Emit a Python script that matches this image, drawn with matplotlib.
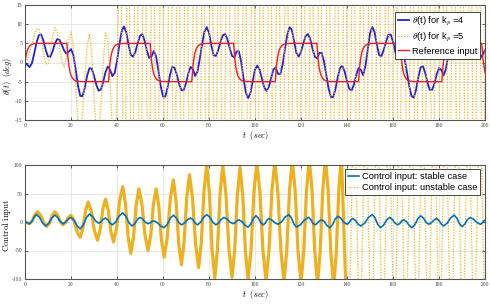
import numpy as np
import matplotlib.pyplot as plt

plt.rcParams['mathtext.fontset'] = 'cm'
plt.rcParams['axes.unicode_minus'] = False

# theta(t) for kp=4, read at 1 s steps
t_sec = np.arange(0, 201)
theta_kp4 = [
    0, -0.6, -1.2, -0.2, 2.3, 5.1, 7.1, 7.35, 5.7, 3.3,
    1.55, 1.5, 2.95, 4.9, 6.1, 5.9, 4.65, 3.15, 2.3, 2.8,
    3.5, 2.0, -1.7, -5.95, -8.7, -8.8, -6.6, -3.5, -1.5, -1.6,
    -3.45, -5.8, -7.35, -7.1, -5.05, -2.5, -1.05, -1.9, -3.55, -2.7,
    0.4, 4.6, 8.05, 9.4, 8.0, 4.7, 1.95, 1.55, 2.8, 5.0,
    6.95, 7.4, 5.7, 3.05, 1.2, 1.6, 3.0, 1.6, -2.05, -6.15,
    -8.85, -8.85, -6.55, -3.35, -1.2, -1.35, -3.15, -5.6, -7.25, -7.25,
    -5.4, -2.85, -1.15, -1.8, -3.5, -2.3, 0.9, 4.8, 8.0, 9.2,
    7.75, 4.5, 1.9, 1.7, 3.2, 5.4, 7.1, 7.4, 6.05, 3.75,
    1.75, 1.3, 2.9, 2.9, 0.15, -4.1, -7.8, -9.3, -8.0, -4.9,
    -1.85, -0.8, -1.9, -4.25, -6.5, -7.4, -6.4, -4.05, -1.85, -1.3,
    -2.95, -3.05, -0.6, 3.4, 7.1, 9.2, 8.55, 5.55, 2.5, 1.55,
    2.75, 4.95, 6.9, 7.45, 6.1, 3.6, 1.5, 1.1, 2.5, 2.5,
    0.3, -3.25, -6.8, -9.0, -9.0, -6.9, -3.8, -1.4, -0.9, -2.4,
    -4.9, -6.9, -7.3, -5.75, -3.3, -1.45, -1.9, -3.3, -1.0, 3.4,
    7.6, 9.3, 7.85, 4.55, 1.9, 1.7, 3.3, 5.5, 7.2, 7.3,
    5.45, 2.8, 1.1, 1.8, 2.75, 1.1, -2.3, -6.0, -8.7, -9.15,
    -7.2, -3.85, -1.3, -0.95, -2.7, -5.3, -7.15, -7.15, -5.5, -3.1,
    -1.45, -1.9, -3.35, -1.7, 1.75, 5.65, 8.5, 9.25, 7.35, 4.05,
    1.75, 1.8, 3.5, 5.75, 7.3, 7.25, 5.3, 2.7, 1.1, 2.1,
    3.2,
]

# reference input (time, value)
ref_t = [
    0, 0.5, 1, 1.5, 2, 3, 4, 6,
    18.2, 18.7, 19.2, 19.7, 20.2, 21.2, 22.2, 24.2,
    36.3, 36.8, 37.3, 37.8, 38.3, 39.3, 40.3, 42.3,
    54.4, 54.9, 55.4, 55.9, 56.4, 57.4, 58.4, 60.4,
    72.5, 73.0, 73.5, 74.0, 74.5, 75.5, 76.5, 78.5,
    90.7, 91.2, 91.7, 92.2, 92.7, 93.7, 94.7, 96.7,
    108.8, 109.3, 109.8, 110.3, 110.8, 111.8, 112.8, 114.8,
    126.9, 127.4, 127.9, 128.4, 128.9, 129.9, 130.9, 132.9,
    145.0, 145.5, 146.0, 146.5, 147.0, 148.0, 149.0, 151.0,
    163.1, 163.6, 164.1, 164.6, 165.1, 166.1, 167.1, 169.1,
    181.2, 181.7, 182.2, 182.7, 183.2, 184.2, 185.2, 187.2,
    198.6, 199.1, 199.6, 200,
]
ref_v = [
    0, 1.97, 3.16, 3.88, 4.32, 4.75, 4.91, 4.99,
    5, 1.07, -1.32, -2.77, -3.65, -4.5, -4.82, -4.98,
    -5, -1.07, 1.32, 2.77, 3.65, 4.5, 4.82, 4.98,
    5, 1.07, -1.32, -2.77, -3.65, -4.5, -4.82, -4.98,
    -5, -1.07, 1.32, 2.77, 3.65, 4.5, 4.82, 4.98,
    5, 1.07, -1.32, -2.77, -3.65, -4.5, -4.82, -4.98,
    -5, -1.07, 1.32, 2.77, 3.65, 4.5, 4.82, 4.98,
    5, 1.07, -1.32, -2.77, -3.65, -4.5, -4.82, -4.98,
    -5, -1.07, 1.32, 2.77, 3.65, 4.5, 4.82, 4.98,
    5, 1.07, -1.32, -2.77, -3.65, -4.5, -4.82, -4.98,
    -5, -1.07, 1.32, 2.77, 3.65, 4.5, 4.82, 4.98,
    5, 1.07, -1.32, -2.5,
]

# theta(t) for kp=5 (time, value) -- goes far off scale after ~40 s
theta_kp5 = np.array([
    (0, 0), (1, 0.67), (2, 2.5), (3, 4.9), (4, 7.2), (5, 8.7), (6, 8.85),
    (7, 6.45), (8, 2.5), (9, -0.4), (10, -0.35), (11, 2.7), (12, 6.8),
    (13, 9.1), (14, 8.05), (15, 4.2), (16, 0.25), (17, -1.2), (18, 1.2),
    (19, 5.6), (20, 8.0), (21, 4.4), (22, -5.55), (23, -15.1), (24, -17.85),
    (25, -13.2), (26, -4.3), (27, 4.1), (28, 7.5), (29, 2.6), (30, -8.65),
    (31, -18.2), (32, -19.2), (33, -11.4), (34, 0.1), (35, 7.7), (36, 6.3),
    (37, -4.9), (38, -18.2), (39, -24), (39.4, -27), (41.35, 40),
    (43.25, -45), (44.9, 50), (46.5, -55), (48.35, 60), (50.15, -60),
    (51.9, 60), (53.75, -60), (55.55, 60), (57.35, -60), (59.4, 60),
    (61.25, -60), (63.05, 60), (65.0, -60), (66.6, 60), (68.25, -60),
    (70.15, 60), (71.85, -60), (73.85, 60), (75.8, -60), (77.4, 60),
    (79.1, -60), (81.0, 60), (82.8, -60), (84.4, 60), (86.15, -60),
    (88.1, 60), (90.15, -60), (92.0, 60), (93.6, -60), (95.4, 60),
    (97.3, -60), (99.1, 60), (100.9, -60), (102.8, 60), (104.6, -60),
    (106.4, 60), (108.2, -60), (110.0, 60), (111.9, -60), (113.7, 60),
    (115.5, -60), (117.3, 60), (119.1, -60), (120.9, 60), (122.8, -60),
    (124.6, 60), (126.4, -60), (128.2, 60), (130.0, -60), (131.8, 60),
    (133.7, -60), (135.5, 60), (137.3, -60), (139.1, 60), (140.9, -60),
    (142.7, 60), (144.6, -60), (146.4, 60), (148.2, -60), (150.0, 60),
    (151.8, -60), (153.6, 60), (155.5, -60), (157.3, 60), (159.1, -60),
    (160.9, 60), (162.7, -60), (164.5, 60), (166.4, -60), (168.2, 60),
    (170.0, -60), (171.8, 60), (173.6, -60), (175.4, 60), (177.3, -60),
    (179.1, 60), (180.9, -60), (182.7, 60), (184.5, -60), (186.3, 60),
    (188.2, -60), (190.0, 60), (191.8, -60), (193.6, 60), (195.4, -60),
    (197.2, 60), (199.1, -60), (200.9, 60),
])

# control input, stable case (time, value)
u_stable = np.array([
    (0, 0), (0.67, -0.75), (1.33, -2.25), (2, -3), (3, 1), (4, 9), (5, 13),
    (6.33, 8), (7.67, -2), (9, -7), (10.33, -2.25), (11.67, 7.25), (13, 12),
    (14.17, 8.25), (15.33, 0.75), (16.5, -3), (17.67, -0.25), (18.83, 5.25),
    (20, 8), (21.33, 3), (22.67, -7), (24, -12), (25.33, -5.5), (26.67, 7.5),
    (28, 14), (29.33, 10), (30.67, 2), (32, -2), (33, 0.25), (34, 4.75),
    (35, 7), (36, 4), (37, -2), (38, -5), (39.5, 0.25), (41, 10.75),
    (42.5, 16), (43.83, 10.25), (45.17, -1.25), (46.5, -7), (47.67, -3.25),
    (48.83, 4.25), (50, 8), (51.17, 5.25), (52.33, -0.25), (53.5, -3),
    (54.33, -1.75), (55.17, 0.75), (56, 2), (57.5, -1), (59, -7),
    (60.5, -10), (61.83, -4.5), (63.17, 6.5), (64.5, 12), (65.67, 7.75),
    (66.83, -0.75), (68, -5), (69.33, -2), (70.67, 4), (72, 7), (73, 4),
    (74, -2), (75, -5), (76.33, -0.5), (77.67, 8.5), (79, 13), (80.33, 8.5),
    (81.67, -0.5), (83, -5), (84.17, -1.75), (85.33, 4.75), (86.5, 8),
    (87.83, 5.25), (89.17, -0.25), (90.5, -3), (91.33, -1.25), (92.17, 2.25),
    (93, 4), (94.33, 0.75), (95.67, -5.75), (97, -9), (98.13, -4),
    (99.27, 6), (100.4, 11), (101.47, 7), (102.53, -1), (103.6, -5),
    (104.4, -2.25), (105.2, 3.25), (106, 6), (107.33, 3.5), (108.67, -1.5),
    (110, -4), (111.57, 0.25), (113.13, 8.75), (114.7, 13), (115.8, 7.5),
    (116.9, -3.5), (118, -9), (119.77, -4.75), (121.53, 3.75), (123.3, 8),
    (124.2, 4.75), (125.1, -1.75), (126, -5), (127, -2.75), (128, 1.75),
    (129, 4), (130.17, 0.5), (131.33, -6.5), (132.5, -10), (133.67, -5),
    (134.83, 5), (136, 10), (137.33, 6.5), (138.67, -0.5), (140, -4),
    (140.83, -1.5), (141.67, 3.5), (142.5, 6), (143.67, 2.75),
    (144.83, -3.75), (146, -7), (147.67, -2), (149.33, 8), (151, 13),
    (152.2, 7.25), (153.4, -4.25), (154.6, -10), (155.9, -5.5), (157.2, 3.5),
    (158.5, 8), (159.67, 4.75), (160.83, -1.75), (162, -5), (162.9, -2.75),
    (163.8, 1.75), (164.7, 4), (165.9, 0.5), (167.1, -6.5), (168.3, -10),
    (169.53, -4.75), (170.77, 5.75), (172, 11), (173.17, 7.25),
    (174.33, -0.25), (175.5, -4), (176.67, -1.5), (177.83, 3.5), (179, 6),
    (180, 2.75), (181, -3.75), (182, -7), (183.53, -2.25), (185.07, 7.25),
    (186.6, 12), (187.73, 7), (188.87, -3), (190, -8), (191.17, -4),
    (192.33, 4), (193.5, 8), (195, 5), (196.5, -1), (198, -4),
    (198.67, -2.25), (199.33, 1.25), (200, 3),
])

# control input, unstable case (time, value)
u_unstable = np.array([
    (0, 0), (0.67, -0.75), (1.33, -2.25), (2, -3), (3.17, 2.25),
    (4.33, 12.75), (5.5, 18), (6.83, 11.5), (8.17, -1.5), (9.5, -8),
    (10.67, -1.5), (11.83, 11.5), (13, 18), (14.17, 12.25), (15.33, 0.75),
    (16.5, -5), (17.67, -0.75), (18.83, 7.75), (20, 12), (21.33, 2.25),
    (22.67, -17.25), (24, -27), (25.17, -11.5), (26.33, 19.5), (27.5, 35),
    (28.83, 18.25), (30.17, -15.25), (31.5, -32), (32.67, -14), (33.83, 22),
    (35, 40), (36.17, 21.25), (37.33, -16.25), (38.5, -35), (39.83, -10.75),
    (41.17, 37.75), (42.5, 62), (43.67, 32.75), (44.83, -25.75), (46, -55),
    (47.17, -26.75), (48.33, 29.75), (49.5, 58), (50.83, 31), (52.17, -23),
    (53.5, -50), (54.67, -23), (55.83, 31), (57, 58), (58.17, 28),
    (59.33, -32), (60.5, -62), (61.83, -28), (63.17, 40), (64.5, 74),
    (65.67, 36.75), (66.83, -37.75), (68, -75), (69.17, -35.5),
    (70.33, 43.5), (71.5, 83), (72.83, 42.25), (74.17, -39.25), (75.5, -80),
    (76.67, -35), (77.83, 55), (79, 100), (80.17, 50.5), (81.33, -48.5),
    (82.5, -98), (83.67, -48.5), (84.83, 50.5), (86, 100), (87.33, 50.75),
    (88.67, -47.75), (90, -97), (91.17, -48.75), (92.33, 47.75), (93.5, 96),
    (94.67, 46.75), (95.83, -51.75), (97, -101), (98.27, -49.75),
    (99.53, 52.75), (100.8, 104), (102.13, 52.25), (103.47, -51.25),
    (104.8, -103), (106.07, -50.75), (107.33, 53.75), (108.6, 106),
    (109.93, 53.5), (111.27, -51.5), (112.6, -104), (113.8, -51), (115, 55),
    (116.2, 108), (117.47, 54.5), (118.73, -52.5), (120, -106), (121.2, -52),
    (122.4, 56), (123.6, 110), (124.8, 55.5), (126, -53.5), (127.2, -108),
    (128.33, -53), (129.47, 57), (130.6, 112), (131.8, 56), (133, -56),
    (134.2, -112), (135.33, -55.25), (136.47, 59.25), (137.6, 115),
    (140.6, -250), (143.1, 250), (145.6, -250), (148.1, 250), (150.6, -250),
    (153.1, 250), (155.6, -250), (158.1, 250), (160.6, -250), (163.0, 250),
    (165.5, -250), (168.0, 250), (170.4, -250), (172.9, 250), (175.3, -250),
    (177.8, 250), (180.3, -250), (182.8, 250), (185.3, -250), (187.8, 250),
    (190.3, -250), (192.8, 250), (195.3, -250), (197.8, 250), (200.3, -250),
])

x_ticks = [0, 20, 40, 60, 80, 100, 120, 140, 160, 180, 200]
theta_ticks = [-15, -10, -5, 0, 5, 10, 15]
u_ticks = [-100, -50, 0, 50, 100]

C_BLUE = '#2222d0'
C_RED = '#ee1c24'
C_YEL = '#EDB120'
C_MBLUE = '#0072BD'
DOTS = (0, (1, 1.2))


def style_axes(ax, yticks):
    ax.set_xlim(0, 200)
    ax.set_ylim(yticks[0], yticks[-1])
    ax.set_xticks(x_ticks)
    ax.set_yticks(yticks)
    ax.grid(True, color='#e4e4e4', linewidth=0.6)
    ax.set_axisbelow(True)
    ax.tick_params(direction='in', length=2.5, width=0.6, labelsize=4,
                   colors='#444444', top=True, right=True, pad=2)
    for lab in ax.get_xticklabels() + ax.get_yticklabels():
        lab.set_family('Liberation Serif')
    for s in ax.spines.values():
        s.set_color('#555555')
        s.set_linewidth(0.8)


fig = plt.figure(figsize=(4.9, 3.04), dpi=100)
ax1 = fig.add_axes([25 / 490, 1 - 120 / 304, 460 / 490, 115 / 304])
ax2 = fig.add_axes([25 / 490, 1 - 279 / 304, 460 / 490, 114 / 304])

# --- top: theta ---
h1, = ax1.plot(t_sec, theta_kp4, color=C_BLUE, lw=1.3,
               label=r'$\theta$(t) for k$_p$ =4')
h2, = ax1.plot(theta_kp5[:, 0], theta_kp5[:, 1], color=C_YEL, lw=0.9,
               ls=DOTS, label=r'$\theta$(t) for k$_p$ =5')
h3, = ax1.plot(ref_t, ref_v, color=C_RED, lw=1.0, label='Reference input')
style_axes(ax1, theta_ticks)
ax1.set_xlabel(r'$t\ \ (sec)$', fontsize=6, labelpad=1)
ax1.set_ylabel(r'$\theta(t)\ \ (deg)$', fontsize=6)
ax1.yaxis.set_label_coords(-0.024, 0.385)

leg_kw = dict(loc='upper right', bbox_transform=fig.transFigure,
              borderaxespad=0, prop={'family': 'Liberation Sans', 'size': 6.7},
              fancybox=False, edgecolor='#262626', framealpha=1,
              handlelength=1.2, handletextpad=0.3, borderpad=0.3)
leg1 = ax1.legend(handles=[h1, h2, h3], bbox_to_anchor=(480 / 490, 1 - 12 / 304),
                  labelspacing=0.3, **leg_kw)
leg1.get_frame().set_linewidth(0.6)

# --- bottom: control input ---
split = np.searchsorted(u_unstable[:, 0], 139)
ax2.plot(u_unstable[:split + 1, 0], u_unstable[:split + 1, 1], color=C_YEL,
         lw=2.3, zorder=2)
g2, = ax2.plot(u_unstable[split - 1:, 0], u_unstable[split - 1:, 1],
               color=C_YEL, lw=0.9, ls=DOTS, zorder=2,
               label='Control input: unstable case')
g1, = ax2.plot(u_stable[:, 0], u_stable[:, 1], color=C_MBLUE, lw=1.2,
               zorder=3, label='Control input: stable case')
style_axes(ax2, u_ticks)
ax2.set_xlabel(r'$t\ \ (sec)$', fontsize=6, labelpad=1)
ax2.set_ylabel(r'$\mathrm{Control\ input}$', fontsize=6.3)
ax2.yaxis.set_label_coords(-0.025, 0.475)
leg2 = ax2.legend(handles=[g1, g2], bbox_to_anchor=(480 / 490, 1 - 169 / 304),
                  labelspacing=0.25, **leg_kw)
leg2.get_frame().set_linewidth(0.6)

fig.savefig('out.png', dpi=100)
